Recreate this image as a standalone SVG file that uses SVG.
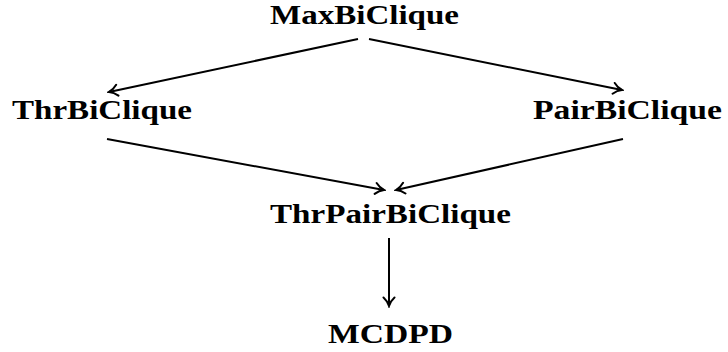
<svg xmlns="http://www.w3.org/2000/svg" width="728" height="352" viewBox="0 0 728 352">
<style>
.lbl{font-family:"Liberation Serif","DejaVu Serif",serif;font-weight:bold;font-size:26.5px;fill:#000;text-anchor:middle}
.edge{stroke:#000;stroke-width:2;fill:none;marker-end:url(#arr)}
</style>
<defs>
<marker id="arr" markerUnits="userSpaceOnUse" viewBox="-11 -7 13 14" markerWidth="13" markerHeight="14" refX="0" refY="0" orient="auto">
<path d="M-8.5,-5.5 C-5.5,-2.2 -2,-0.6 0,0 C-2,0.6 -5.5,2.2 -8.5,5.5" stroke="#000" stroke-width="2" fill="none" stroke-linecap="round"/>
</marker>
</defs>
<rect width="728" height="352" fill="#fff"/>
<g id="connectors">
<line class="edge" x1="358" y1="39" x2="109" y2="92"/>
<line class="edge" x1="369" y1="39" x2="622" y2="90"/>
<line class="edge" x1="107" y1="139" x2="384" y2="190"/>
<line class="edge" x1="623" y1="139" x2="396" y2="190"/>
<line class="edge" x1="389" y1="238" x2="389" y2="306"/>
</g>
<g id="MaxBiClique"><text class="lbl" x="364.5" y="24" textLength="189" lengthAdjust="spacingAndGlyphs">MaxBiClique</text></g>
<g id="ThrBiClique"><text class="lbl" x="102" y="119" textLength="180" lengthAdjust="spacingAndGlyphs">ThrBiClique</text></g>
<g id="PairBiClique"><text class="lbl" x="627.5" y="119" textLength="189" lengthAdjust="spacingAndGlyphs">PairBiClique</text></g>
<g id="ThrPairBiClique"><text class="lbl" x="390.5" y="223" textLength="241" lengthAdjust="spacingAndGlyphs">ThrPairBiClique</text></g>
<g id="MCDPD"><text class="lbl" x="390.5" y="343" textLength="125" lengthAdjust="spacingAndGlyphs">MCDPD</text></g>
</svg>
